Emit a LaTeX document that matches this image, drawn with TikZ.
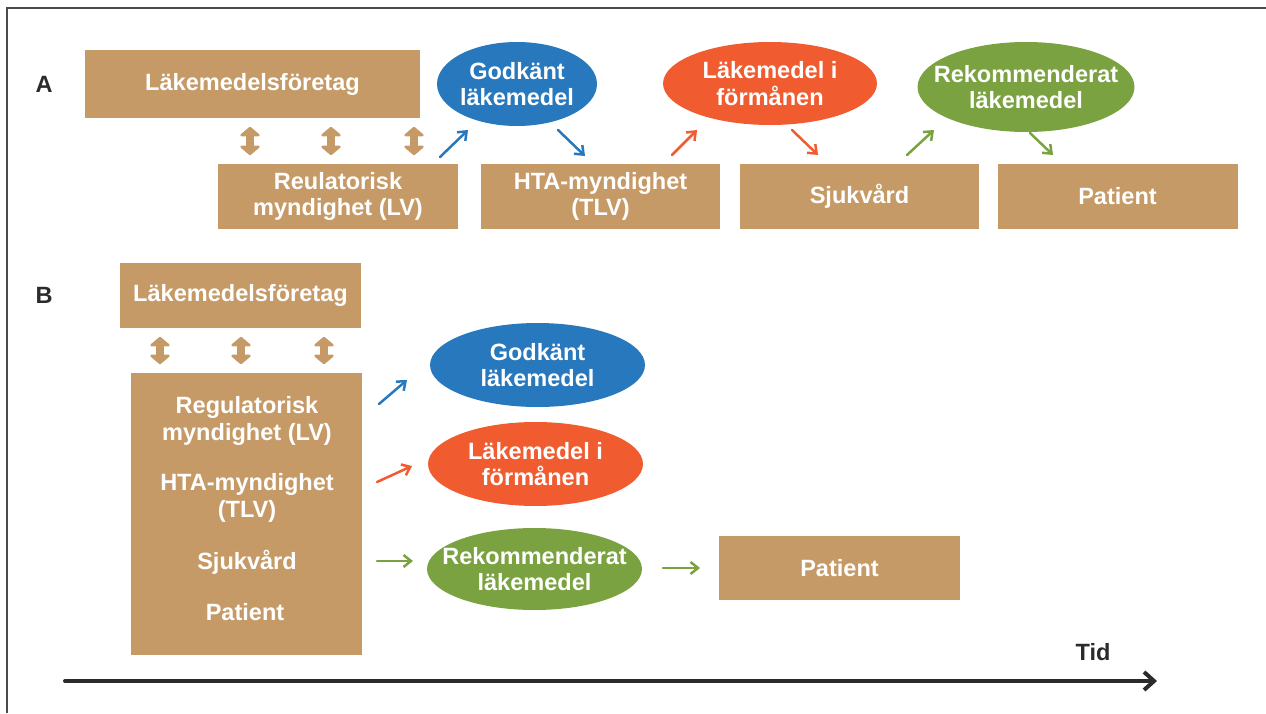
\documentclass[tikz,border=0pt]{standalone}
\usepackage{fontspec}
\setmainfont{Liberation Sans}
\usetikzlibrary{arrows.meta,shapes.geometric}

\begin{document}
\begin{tikzpicture}[
    x=0.02cm, y=-0.02cm,             % 1 drawing unit = 1 px, y runs downwards
    font=\bfseries\fontsize{13.4}{15}\selectfont,
    box/.style={fill=tan,text=white,align=center,inner sep=0pt},
    oval/.style={ellipse,text=white,align=center,inner xsep=-0.7cm,inner ysep=0pt},
    dbl/.style={tan,line width=0.15cm,
      {Triangle[length=0.2cm,width=0.46cm,round]}-{Triangle[length=0.2cm,width=0.46cm,round]},
      shorten <=0.17cm,shorten >=0.17cm},
    arr/.style={line width=0.05cm,line cap=round,-{Straight Barb[length=0.15cm,width=0.24cm]}},
  ]
  \definecolor{tan}{RGB}{198,154,102}
  \definecolor{blueG}{RGB}{40,120,190}
  \definecolor{orangeF}{RGB}{240,92,48}
  \definecolor{greenR}{RGB}{122,162,64}
  \definecolor{ink}{RGB}{43,43,43}

  \useasboundingbox (0,0) rectangle (1266,713);
  \draw[ink!85,line width=0.03cm] (7,713) -- (7,8) -- (1266,8);

  %% ---------------- A ----------------
  \node[text=ink] (lblA) at (44,84) {A};
  \node[box,minimum width=6.7cm,minimum height=1.36cm] (foretagA) at (252.5,84) {Läkemedelsföretag};
  \node[box,minimum width=4.8cm,minimum height=1.3cm] (regA)  at (338,196.5)  {Reulatorisk\\myndighet (LV)};
  \node[box,minimum width=4.8cm,minimum height=1.3cm] (htaA)  at (600.5,196.5) {HTA-myndighet\\(TLV)};
  \node[box,minimum width=4.8cm,minimum height=1.3cm] (sjukA) at (859.5,196.5) {Sjukvård};
  \node[box,minimum width=4.8cm,minimum height=1.3cm] (patA)  at (1117.5,196.5) {Patient};
  \node[oval,fill=blueG,minimum width=3.2cm,minimum height=1.68cm]   (godA)  at (517,84)   {Godkänt\\läkemedel};
  \node[oval,fill=orangeF,minimum width=4.28cm,minimum height=1.66cm] (formA) at (770,83.5) {Läkemedel i\\förmånen};
  \node[oval,fill=greenR,minimum width=4.34cm,minimum height=1.8cm]   (rekA)  at (1026,87)  {Rekommenderat\\läkemedel};

  \foreach \x in {250,331,414}{\draw[dbl] (\x,0 |- foretagA.south) -- (\x,0 |- regA.north);}

  \draw[arr,blueG]   ([shift={(102,-39.5)}]regA.center)   -- ([shift={(-49,46)}]godA.center);
  \draw[arr,blueG]   ([shift={(41,46)}]godA.center)       -- ([shift={(-15.5,-40.5)}]htaA.center);
  \draw[arr,orangeF] ([shift={(71.5,-41.5)}]htaA.center)  -- ([shift={(-73,46.5)}]formA.center);
  \draw[arr,orangeF] ([shift={(22,46.5)}]formA.center)    -- ([shift={(-41.5,-41.5)}]sjukA.center);
  \draw[arr,greenR]  ([shift={(47.5,-41.5)}]sjukA.center) -- ([shift={(-92,43)}]rekA.center);
  \draw[arr,greenR]  ([shift={(4,46)}]rekA.center)        -- ([shift={(-64.5,-41.5)}]patA.center);

  %% ---------------- B ----------------
  \node[text=ink] (lblB) at (44,295) {B};
  \node[box,minimum width=4.82cm,minimum height=1.3cm] (foretagB) at (240.5,295.5) {Läkemedelsföretag};
  \node[box,minimum width=4.62cm,minimum height=5.64cm] (allB) at (246.5,514) {};
  \node[text=white,align=center] (regB)  at (247,421) {Regulatorisk\\myndighet (LV)};
  \node[text=white,align=center] (htaB)  at (247,498) {HTA-myndighet\\(TLV)};
  \node[text=white] (sjukB) at (247,562) {Sjukvård};
  \node[text=white] (patB)  at (245,612) {Patient};
  \node[oval,fill=blueG,minimum width=4.3cm,minimum height=1.68cm]   (godB)  at (537.5,365) {Godkänt\\läkemedel};
  \node[oval,fill=orangeF,minimum width=4.3cm,minimum height=1.68cm] (formB) at (535.5,464) {Läkemedel i\\förmånen};
  \node[oval,fill=greenR,minimum width=4.3cm,minimum height=1.64cm]  (rekB)  at (534.5,569) {Rekommenderat\\läkemedel};
  \node[box,minimum width=4.82cm,minimum height=1.28cm] (patBox) at (839.5,568) {Patient};

  \foreach \x in {160,241,324}{\draw[dbl] (\x,0 |- foretagB.south) -- (\x,0 |- allB.north);}

  \draw[arr,blueG]   ([shift={(132.5,-110)}]allB.center) -- ([shift={(-130.5,15)}]godB.center);
  \draw[arr,orangeF] ([shift={(130.5,-32)}]allB.center)  -- ([shift={(-123.5,2)}]formB.center);
  \draw[arr,greenR]  ([shift={(130.5,47)}]allB.center)   -- ([shift={(-121.5,-8)}]rekB.center);
  \draw[arr,greenR]  ([shift={(128.5,-1)}]rekB.center)   -- ([shift={(-139.5,0)}]patBox.center);

  %% ---------------- time axis ----------------
  \coordinate (t0) at (65,681);
  \coordinate (t1) at (1157,681);
  \draw[ink,line width=0.08cm,line cap=round,-{Straight Barb[length=0.2cm,width=0.36cm]}] (t0) -- (t1);
  \node[text=ink] (tid) at (1093,652) {Tid};
\end{tikzpicture}
\end{document}
